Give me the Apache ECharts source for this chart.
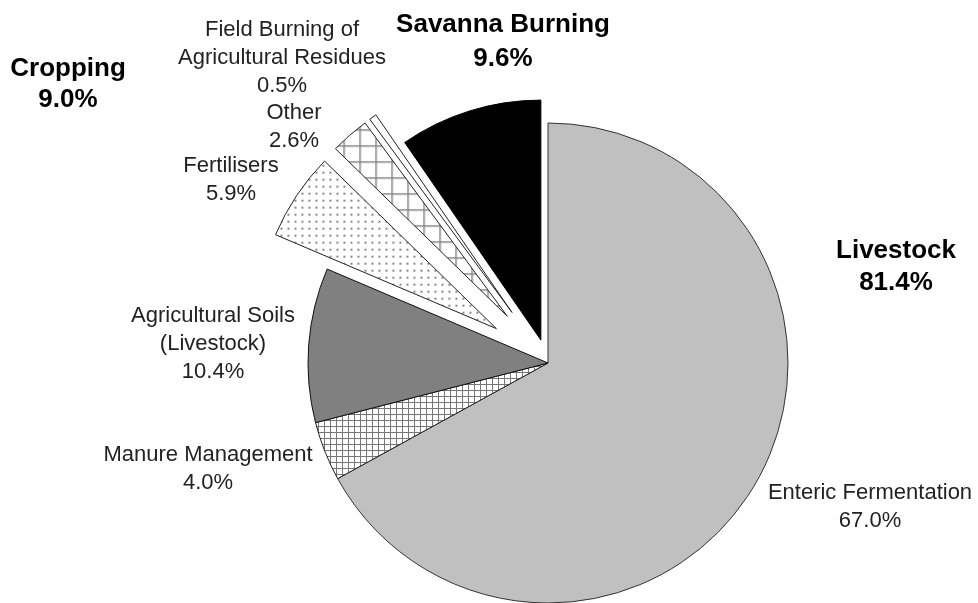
<!DOCTYPE html>
<html>
<head>
<meta charset="utf-8">
<script src="https://cdn.jsdelivr.net/npm/echarts/dist/echarts.min.js"></script>
<style>
  html, body { margin: 0; padding: 0; background: #fff; }
  #chart { width: 978px; height: 603px; }
</style>
</head>
<body>
<div id="chart"></div>
<script>
// emission sources, clockwise from 12 o'clock
const sources = [
  'Enteric Fermentation',
  'Manure Management',
  'Agricultural Soils\n(Livestock)',
  'Fertilisers',
  'Other',
  'Field Burning of\nAgricultural Residues',
  'Savanna Burning'
];
const shares = [67.0, 4.0, 10.4, 5.9, 2.6, 0.5, 9.6];
const groups = ['Livestock', 'Livestock', 'Livestock', 'Cropping', 'Cropping', 'Cropping', 'Savanna Burning'];

const groupTotal = name => shares.filter((v, i) => groups[i] === name).reduce((a, b) => a + b, 0);

// label centres (layout only)
const labelPos = [
  [870, 507], [208, 469], [213, 344], [231, 180], [294, 127], [282, 58], [503, 42]
];

const FONT = 'Arial, "Liberation Sans", sans-serif';

const makePattern = (size, draw) => {
  const c = document.createElement('canvas');
  c.width = size; c.height = size;
  const ctx = c.getContext('2d');
  ctx.fillStyle = '#fff';
  ctx.fillRect(0, 0, size, size);
  draw(ctx, size);
  return { image: c, repeat: 'repeat' };
};

const gridFill = makePattern(6, (ctx, s) => {
  ctx.fillStyle = '#777';
  ctx.fillRect(0, 0, s, 1);
  ctx.fillRect(0, 0, 1, s);
});
const dotFill = makePattern(7, (ctx) => {
  ctx.fillStyle = '#888';
  ctx.fillRect(3, 3, 2, 2);
});
const largeGridFill = makePattern(16, (ctx, s) => {
  ctx.fillStyle = '#888';
  ctx.fillRect(0, 0, s, 1.5);
  ctx.fillRect(0, 0, 1.5, s);
});

const fills = ['#c0c0c0', gridFill, '#808080', dotFill, largeGridFill, '#ffffff', '#000000'];
const borders = ['#333', '#222', '#111', '#222', '#222', '#222', '#000'];

const labelText = (i) => {
  if (groups[i] === 'Savanna Burning') {
    return '{b|' + sources[i] + '}\n{b|' + shares[i].toFixed(1) + '%}';
  }
  return sources[i] + '\n' + shares[i].toFixed(1) + '%';
};

const clear = 'rgba(0,0,0,0)';

// shapes: one series per explosion distance
const shapeData = (visible, exploded) => sources.map((name, i) => {
  const show = visible(i);
  return {
    name: name,
    value: shares[i],
    selected: show && exploded(i),
    itemStyle: show
      ? { color: fills[i], borderColor: borders[i], borderWidth: 1 }
      : { color: clear, borderWidth: 0 }
  };
});

// labels: invisible slices, labels only
const labelData = sources.map((name, i) => ({
  name: name,
  value: shares[i],
  itemStyle: { color: clear, borderWidth: 0 },
  label: { formatter: labelText(i) }
}));

const baseSeries = {
  type: 'pie',
  center: [548, 363],
  radius: 240,
  startAngle: 90,
  clockwise: true,
  avoidLabelOverlap: false,
  silent: true,
  animation: false,
  labelLine: { show: false }
};

const chart = echarts.init(document.getElementById('chart'));
chart.setOption({
  backgroundColor: '#fff',
  graphic: [
    {
      type: 'text', x: 68, y: 84, z: 10,
      style: {
        text: 'Cropping\n' + groupTotal('Cropping').toFixed(1) + '%',
        font: 'bold 26px ' + FONT, lineHeight: 31,
        fill: '#000', align: 'center', verticalAlign: 'middle'
      }
    },
    {
      type: 'text', x: 896, y: 267, z: 10,
      style: {
        text: 'Livestock\n' + groupTotal('Livestock').toFixed(1) + '%',
        font: 'bold 26px ' + FONT, lineHeight: 32,
        fill: '#000', align: 'center', verticalAlign: 'middle'
      }
    }
  ],
  series: [
    Object.assign({}, baseSeries, {
      selectedMode: 'multiple',
      selectedOffset: 62,
      label: { show: false },
      data: shapeData(i => groups[i] !== 'Savanna Burning', i => groups[i] === 'Cropping')
    }),
    Object.assign({}, baseSeries, {
      selectedMode: 'multiple',
      selectedOffset: 24,
      label: { show: false },
      data: shapeData(i => groups[i] === 'Savanna Burning', () => true)
    }),
    Object.assign({}, baseSeries, {
      selectedMode: false,
      z: 5,
      label: {
        show: true,
        position: 'outside',
        color: '#222',
        fontFamily: FONT,
        fontSize: 22,
        lineHeight: 28,
        align: 'center',
        rich: {
          b: { fontFamily: FONT, fontSize: 26, fontWeight: 'bold', color: '#000', lineHeight: 34 }
        }
      },
      labelLayout: (params) => {
        const p = labelPos[params.dataIndex];
        return { x: p[0], y: p[1], align: 'center', verticalAlign: 'middle' };
      },
      data: labelData
    })
  ]
});
</script>
</body>
</html>
